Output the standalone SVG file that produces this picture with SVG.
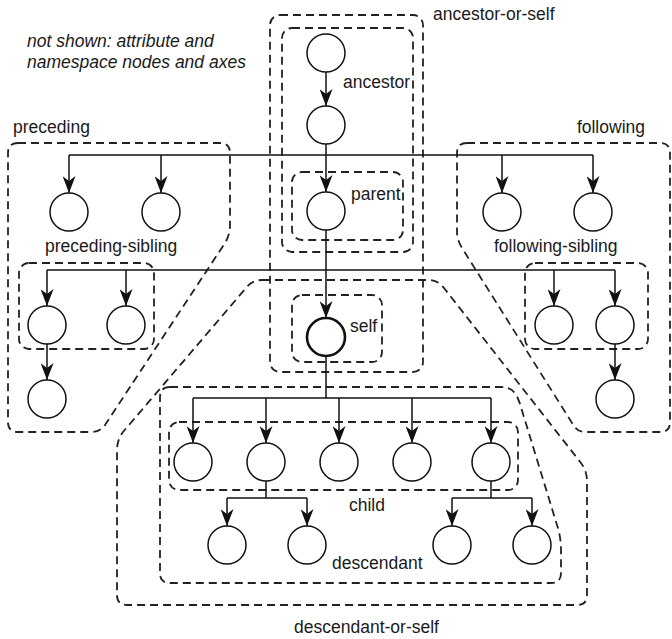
<svg xmlns="http://www.w3.org/2000/svg" width="672" height="639" viewBox="0 0 672 639">
<style>
.bg{fill:#fff}
.region{fill:none;stroke:#222;stroke-width:1.8;stroke-dasharray:8 5}
.edge{fill:none;stroke:#111;stroke-width:1.5}
.node circle{fill:#fff;stroke:#111;stroke-width:1.5}
#self circle{stroke-width:2.6}
.lbl{font-family:"Liberation Sans",Arial,Helvetica,sans-serif;font-size:17.5px;fill:#1a1a1a}
.note{font-family:"Liberation Sans",Arial,Helvetica,sans-serif;font-size:17.5px;font-style:italic;fill:#1a1a1a}
</style>
<defs>
<marker id="arr" markerUnits="userSpaceOnUse" viewBox="0 0 17 13" markerWidth="17" markerHeight="13" refX="17" refY="6.5" orient="auto">
<path d="M0,0 L17,6.5 L0,13 L5,6.5 Z" fill="#111"/>
</marker>
</defs>
<rect class="bg" x="0" y="0" width="672" height="639"/>

<g id="regions">
<rect id="r-ancestor-or-self" class="region" x="270" y="15" width="153" height="357" rx="10"/>
<rect id="r-ancestor" class="region" x="282" y="28" width="131" height="224" rx="10"/>
<rect id="r-parent" class="region" x="292" y="172" width="111" height="68" rx="10"/>
<rect id="r-self" class="region" x="292" y="295" width="90" height="67" rx="10"/>
<path id="r-preceding" class="region" d="M18,143 H220 Q230,143 230,153 V225 Q230,235 225,243 L105,425 Q100,432 92,432 H18 Q8,432 8,422 V153 Q8,143 18,143 Z"/>
<rect id="r-preceding-sibling" class="region" x="19" y="263" width="135" height="86" rx="10"/>
<path id="r-following" class="region" d="M467,143 H660 Q670,143 670,153 V422 Q670,432 660,432 H585 Q578,432 574,426 L462,248 Q457,240 457,232 V153 Q457,143 467,143 Z"/>
<rect id="r-following-sibling" class="region" x="525" y="263" width="123" height="86" rx="10"/>
<path id="r-descendant-or-self" class="region" d="M262,280 H428 Q438,280 444,288 L581,463 Q587,471 587,481 V595 Q587,605 577,605 H127 Q117,605 117,595 V450 Q117,440 123,432 L246,288 Q252,280 262,280 Z"/>
<path id="r-descendant" class="region" d="M170,387 H500 C512,387 516,392 520,404 L557,525 Q561,537 561,550 V573 Q561,583 551,583 H170 Q160,583 160,573 V397 Q160,387 170,387 Z"/>
<rect id="r-child" class="region" x="169" y="422" width="349" height="68" rx="10"/>
</g>

<g id="labels">
<text class="note" x="27" y="47">not shown: attribute and</text>
<text class="note" x="27" y="68">namespace nodes and axes</text>
<text class="lbl" x="433" y="20">ancestor-or-self</text>
<text class="lbl" x="343" y="88">ancestor</text>
<text class="lbl" x="351" y="200">parent</text>
<text class="lbl" x="350" y="332">self</text>
<text class="lbl" x="13" y="133">preceding</text>
<text class="lbl" x="645" y="133" text-anchor="end">following</text>
<text class="lbl" x="45" y="252">preceding-sibling</text>
<text class="lbl" x="494" y="252">following-sibling</text>
<text class="lbl" x="367" y="511" text-anchor="middle">child</text>
<text class="lbl" x="332" y="569">descendant</text>
<text class="lbl" x="294" y="633">descendant-or-self</text>
</g>

<g id="connectors">
<line class="edge" x1="326" y1="72" x2="326" y2="106" marker-end="url(#arr)"/>
<line class="edge" x1="326" y1="144" x2="326" y2="192" marker-end="url(#arr)"/>
<line class="edge" x1="69" y1="155" x2="593" y2="155"/>
<line class="edge" x1="69" y1="155" x2="69" y2="193" marker-end="url(#arr)"/>
<line class="edge" x1="161" y1="155" x2="161" y2="193" marker-end="url(#arr)"/>
<line class="edge" x1="502" y1="155" x2="502" y2="193" marker-end="url(#arr)"/>
<line class="edge" x1="593" y1="155" x2="593" y2="193" marker-end="url(#arr)"/>
<line class="edge" x1="326" y1="230" x2="326" y2="318" marker-end="url(#arr)"/>
<line class="edge" x1="47" y1="270" x2="615" y2="270"/>
<line class="edge" x1="47" y1="270" x2="47" y2="306" marker-end="url(#arr)"/>
<line class="edge" x1="126" y1="270" x2="126" y2="306" marker-end="url(#arr)"/>
<line class="edge" x1="554" y1="270" x2="554" y2="306" marker-end="url(#arr)"/>
<line class="edge" x1="615" y1="270" x2="615" y2="306" marker-end="url(#arr)"/>
<line class="edge" x1="47" y1="344" x2="47" y2="380" marker-end="url(#arr)"/>
<line class="edge" x1="615" y1="344" x2="615" y2="380" marker-end="url(#arr)"/>
<line class="edge" x1="326" y1="356" x2="326" y2="398"/>
<line class="edge" x1="193" y1="398" x2="491" y2="398"/>
<line class="edge" x1="193" y1="398" x2="193" y2="443" marker-end="url(#arr)"/>
<line class="edge" x1="266" y1="398" x2="266" y2="443" marker-end="url(#arr)"/>
<line class="edge" x1="339" y1="398" x2="339" y2="443" marker-end="url(#arr)"/>
<line class="edge" x1="412" y1="398" x2="412" y2="443" marker-end="url(#arr)"/>
<line class="edge" x1="491" y1="398" x2="491" y2="443" marker-end="url(#arr)"/>
<line class="edge" x1="266" y1="481" x2="266" y2="498"/>
<line class="edge" x1="227" y1="498" x2="307" y2="498"/>
<line class="edge" x1="227" y1="498" x2="227" y2="526" marker-end="url(#arr)"/>
<line class="edge" x1="307" y1="498" x2="307" y2="526" marker-end="url(#arr)"/>
<line class="edge" x1="491" y1="481" x2="491" y2="498"/>
<line class="edge" x1="452" y1="498" x2="532" y2="498"/>
<line class="edge" x1="452" y1="498" x2="452" y2="526" marker-end="url(#arr)"/>
<line class="edge" x1="532" y1="498" x2="532" y2="526" marker-end="url(#arr)"/>
</g>

<g id="nodes">
<g id="anc1" class="node"><circle cx="326" cy="53" r="19"/></g>
<g id="anc2" class="node"><circle cx="326" cy="125" r="19"/></g>
<g id="parent" class="node"><circle cx="326" cy="211" r="19"/></g>
<g id="self" class="node"><circle cx="326" cy="337" r="19"/></g>
<g id="prec1" class="node"><circle cx="69" cy="212" r="19"/></g>
<g id="prec2" class="node"><circle cx="161" cy="212" r="19"/></g>
<g id="foll1" class="node"><circle cx="502" cy="212" r="19"/></g>
<g id="foll2" class="node"><circle cx="593" cy="212" r="19"/></g>
<g id="psib1" class="node"><circle cx="47" cy="325" r="19"/></g>
<g id="psib2" class="node"><circle cx="126" cy="325" r="19"/></g>
<g id="psib1child" class="node"><circle cx="47" cy="399" r="19"/></g>
<g id="fsib1" class="node"><circle cx="554" cy="325" r="19"/></g>
<g id="fsib2" class="node"><circle cx="615" cy="325" r="19"/></g>
<g id="fsib2child" class="node"><circle cx="615" cy="399" r="19"/></g>
<g id="child1" class="node"><circle cx="193" cy="462" r="19"/></g>
<g id="child2" class="node"><circle cx="266" cy="462" r="19"/></g>
<g id="child3" class="node"><circle cx="339" cy="462" r="19"/></g>
<g id="child4" class="node"><circle cx="412" cy="462" r="19"/></g>
<g id="child5" class="node"><circle cx="491" cy="462" r="19"/></g>
<g id="desc1" class="node"><circle cx="227" cy="545" r="19"/></g>
<g id="desc2" class="node"><circle cx="307" cy="545" r="19"/></g>
<g id="desc3" class="node"><circle cx="452" cy="545" r="19"/></g>
<g id="desc4" class="node"><circle cx="532" cy="545" r="19"/></g>
</g>
</svg>
